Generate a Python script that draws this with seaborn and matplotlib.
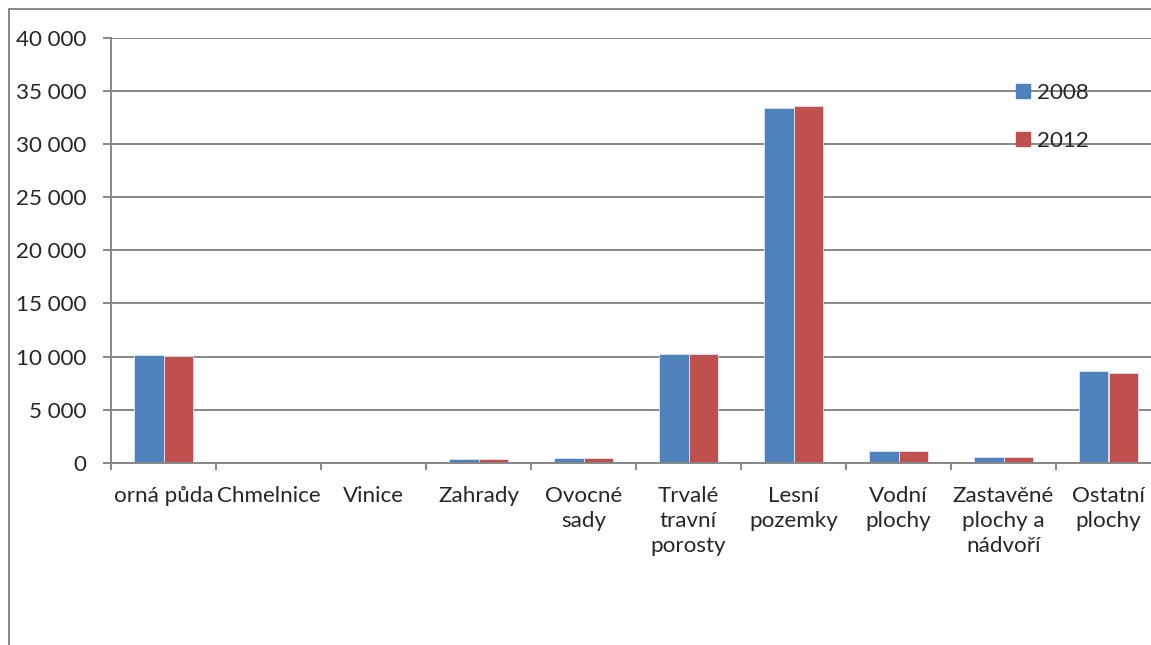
import numpy as np
import pandas as pd
import matplotlib
matplotlib.use("Agg")
import matplotlib.pyplot as plt
from matplotlib.ticker import FuncFormatter, FixedLocator
from matplotlib.lines import Line2D
import seaborn as sns

# data
kategorie = ['orná půda', 'Chmelnice', 'Vinice', 'Zahrady', 'Ovocné\nsady',
             'Trvalé\ntravní\nporosty', 'Lesní\npozemky', 'Vodní\nplochy',
             'Zastavěné\nplochy a\nnádvoří', 'Ostatní\nplochy']
roky = ['2008', '2012']
hodnoty_2008 = [10100, 0, 0, 320, 415, 10250, 33430, 1075, 510, 8590]
hodnoty_2012 = [10020, 0, 0, 320, 440, 10250, 33620, 1075, 510, 8490]
barvy = ['#4F81BD', '#C0504D']

df = pd.DataFrame({
    'kategorie': kategorie * 2,
    'rok': [roky[0]] * len(kategorie) + [roky[1]] * len(kategorie),
    'hodnota': hodnoty_2008 + hodnoty_2012,
})

sns.set_style("white")
plt.rcParams['font.family'] = ['Lato', 'DejaVu Sans']

W, H = 1151, 645
fs = 16.1
fig = plt.figure(figsize=(W / 100, H / 100), dpi=100)
ax = fig.add_axes([111 / W, 1 - 462.7 / H, 1050 / W, (462.7 - 38) / H])

sns.barplot(data=df, x='kategorie', y='hodnota', hue='rok', palette=barvy,
            width=0.57, ax=ax, edgecolor='#dce6f2', linewidth=0.6,
            saturation=1)

seda = '#878787'
ax.set_ylim(0, 40000)
ax.set_xlim(-0.5, len(kategorie) - 0.5)
ax.yaxis.set_major_locator(FixedLocator(np.arange(0, 40001, 5000)))
ax.yaxis.set_major_formatter(FuncFormatter(lambda v, p: f"{v:,.0f}".replace(",", " ")))
ax.grid(axis='y', color=seda, linewidth=1.4)
ax.set_axisbelow(True)
for s in ['top', 'right']:
    ax.spines[s].set_visible(False)
for s in ['left', 'bottom']:
    ax.spines[s].set_color(seda)
    ax.spines[s].set_linewidth(1.4)

ax.tick_params(axis='y', which='major', length=6, width=1.4, color=seda,
               labelsize=fs, pad=12, left=True)
ax.tick_params(axis='x', which='major', length=0, labelsize=fs, pad=17)
ax.set_xticks(np.arange(-0.5, len(kategorie) + 0.5, 1), minor=True)
ax.tick_params(axis='x', which='minor', length=5, width=1.4, color=seda,
               bottom=True)
for t in ax.get_xticklabels():
    t.set_linespacing(1.3)
    t.set_verticalalignment('top')

ax.set_xlabel('')
ax.set_ylabel('')

handles = [Line2D([], [], marker='s', linestyle='', markersize=10.5,
                  markerfacecolor=c, markeredgecolor=c) for c in barvy]
ax.legend(handles, roky, loc='upper left', bbox_to_anchor=(1015 / W, 1 - 83 / H),
          bbox_transform=fig.transFigure, frameon=False, fontsize=fs,
          handlelength=0.7, handletextpad=0.3, labelspacing=1.25,
          borderaxespad=0, borderpad=0)

# outer chart frame
fig.add_artist(Line2D([9 / W, 1], [1 - 9 / H, 1 - 9 / H], color=seda,
                      linewidth=1.4, transform=fig.transFigure))
fig.add_artist(Line2D([9 / W, 9 / W], [0, 1 - 9 / H], color=seda,
                      linewidth=1.4, transform=fig.transFigure))

fig.savefig('out.png', dpi=100)
